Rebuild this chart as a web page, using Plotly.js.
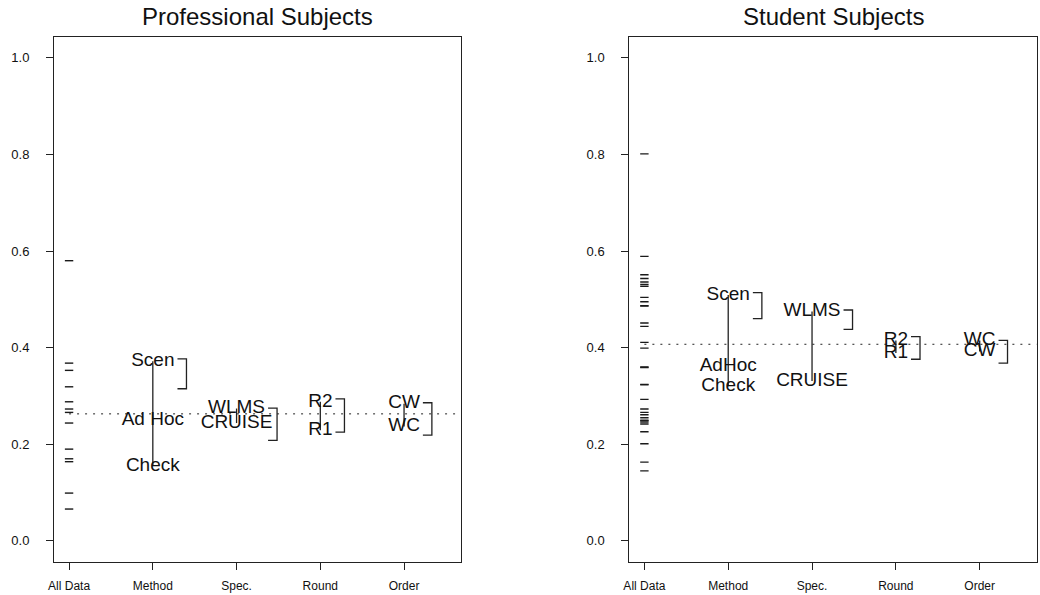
<!DOCTYPE html>
<html>
<head>
<meta charset="utf-8">
<script src="https://cdn.plot.ly/plotly-3.0.1.min.js"></script>
<style>html,body{margin:0;padding:0;background:#fff;}#chart{width:1040px;height:595px;}</style>
</head>
<body>
<div id="chart"></div>
<script>
// ---------- data ----------
const categories = ['All Data', 'Method', 'Spec.', 'Round', 'Order'];
const panelTitles = ['Professional Subjects', 'Student Subjects'];

const proAllData = [0.580, 0.368, 0.353, 0.319, 0.288, 0.273, 0.266, 0.244, 0.190, 0.170, 0.164, 0.099, 0.066];
const proMean = 0.263;
const proMethodLevels = ['Scen', 'Ad Hoc', 'Check'];
const proMethodMeans = [0.372, 0.249, 0.155];
const proSpecLevels = ['WLMS', 'CRUISE'];
const proSpecMeans = [0.274, 0.244];
const proRoundLevels = ['R2', 'R1'];
const proRoundMeans = [0.288, 0.229];
const proOrderLevels = ['CW', 'WC'];
const proOrderMeans = [0.284, 0.237];
const proBracketTop = [0.377, 0.275, 0.294, 0.286];
const proBracketBottom = [0.315, 0.208, 0.225, 0.219];

const stuAllData = [0.801, 0.589, 0.551, 0.543, 0.536, 0.531, 0.527, 0.504, 0.495, 0.487, 0.486, 0.451, 0.444,
  0.411, 0.399, 0.360, 0.359, 0.324, 0.323, 0.293, 0.273, 0.266, 0.261, 0.255, 0.250, 0.249, 0.246, 0.242,
  0.226, 0.201, 0.163, 0.145];
const stuMean = 0.407;
const stuMethodLevels = ['Scen', 'AdHoc', 'Check'];
const stuMethodMeans = [0.509, 0.361, 0.320];
const stuSpecLevels = ['WLMS', 'CRUISE'];
const stuSpecMeans = [0.475, 0.331];
const stuRoundLevels = ['R2', 'R1'];
const stuRoundMeans = [0.415, 0.389];
const stuOrderLevels = ['WC', 'CW'];
const stuOrderMeans = [0.415, 0.392];
const stuBracketTop = [0.514, 0.478, 0.423, 0.415];
const stuBracketBottom = [0.460, 0.438, 0.376, 0.368];

// ---------- styling / layout constants ----------
const W = 1040, H = 595;
const FONT = '"Liberation Sans", Arial, Helvetica, sans-serif';
const LABEL_SIZE = 19;
const XRANGE = [0.82, 5.68];
const YRANGE = [-0.043, 1.043];
const xDomains = [[54 / W, 461 / W], [629.3 / W, 1036.7 / W]];
const yDomain = [1 - 561.7 / H, 1 - 37 / H];
const LINE_COL = '#222';
const TXT_COL = '#111';

const canvas = document.createElement('canvas');
const ctx = canvas.getContext('2d');
ctx.font = LABEL_SIZE + 'px "Liberation Sans", Arial, sans-serif';
function textW(s) { return ctx.measureText(s).width; }

const panels = [
  {
    all: proAllData, mean: proMean,
    factors: [[proMethodLevels, proMethodMeans], [proSpecLevels, proSpecMeans],
              [proRoundLevels, proRoundMeans], [proOrderLevels, proOrderMeans]],
    bTop: proBracketTop, bBot: proBracketBottom
  },
  {
    all: stuAllData, mean: stuMean,
    factors: [[stuMethodLevels, stuMethodMeans], [stuSpecLevels, stuSpecMeans],
              [stuRoundLevels, stuRoundMeans], [stuOrderLevels, stuOrderMeans]],
    bTop: stuBracketTop, bBot: stuBracketBottom
  }
];

const traces = [];
const layout = {
  width: W, height: H,
  margin: {l: 0, r: 0, t: 0, b: 0},
  paper_bgcolor: '#fff', plot_bgcolor: '#fff',
  showlegend: false,
  font: {family: FONT, color: TXT_COL},
  annotations: []
};

panels.forEach((p, i) => {
  const xa = i === 0 ? 'x' : 'x2';
  const ya = i === 0 ? 'y' : 'y2';
  const xKey = i === 0 ? 'xaxis' : 'xaxis2';
  const yKey = i === 0 ? 'yaxis' : 'yaxis2';
  const pxPerUnit = (xDomains[i][1] - xDomains[i][0]) * W / (XRANGE[1] - XRANGE[0]);

  // all data dashes
  traces.push({
    x: p.all.map(() => 1), y: p.all, xaxis: xa, yaxis: ya,
    type: 'scatter', mode: 'markers', hoverinfo: 'skip',
    marker: {symbol: 'line-ew', size: 6, line: {width: 1.4, color: '#1a1a1a'}}
  });
  // grand mean dotted line
  traces.push({
    x: [1, XRANGE[1]], y: [p.mean, p.mean], xaxis: xa, yaxis: ya,
    type: 'scatter', mode: 'lines', hoverinfo: 'skip',
    line: {color: '#222', width: 1, dash: '2px,6px'}
  });

  p.factors.forEach((f, k) => {
    const levels = f[0], means = f[1];
    const xc = k + 2;
    const mn = Math.min(...means), mx = Math.max(...means);
    // vertical range line
    traces.push({
      x: [xc, xc], y: [mn, mx], xaxis: xa, yaxis: ya,
      type: 'scatter', mode: 'lines', hoverinfo: 'skip',
      line: {color: LINE_COL, width: 1.3}
    });
    // level labels at means
    traces.push({
      x: means.map(() => xc), y: means, text: levels, xaxis: xa, yaxis: ya,
      type: 'scatter', mode: 'text', hoverinfo: 'skip', textposition: 'middle center',
      textfont: {family: FONT, size: LABEL_SIZE, color: TXT_COL}
    });
    // bracket right of the top label
    const topIdx = means.indexOf(mx);
    const xl = xc + (textW(levels[topIdx]) / 2 + 3) / pxPerUnit;
    const xr = xl + 9 / pxPerUnit;
    traces.push({
      x: [xl, xr, xr, xl], y: [p.bTop[k], p.bTop[k], p.bBot[k], p.bBot[k]], xaxis: xa, yaxis: ya,
      type: 'scatter', mode: 'lines', hoverinfo: 'skip',
      line: {color: LINE_COL, width: 1.3}
    });
  });

  layout[xKey] = {
    domain: xDomains[i], range: XRANGE, anchor: ya,
    tickmode: 'array', tickvals: [1, 2, 3, 4, 5], ticktext: categories,
    ticks: 'outside', ticklen: 7, tickwidth: 1, tickcolor: '#222',
    showline: true, mirror: true, linecolor: '#222', linewidth: 1,
    showgrid: false, zeroline: false, fixedrange: true,
    tickfont: {family: FONT, size: 12, color: TXT_COL},
    ticklabelstandoff: 6
  };
  layout[yKey] = {
    domain: yDomain, range: YRANGE, anchor: xa,
    tickmode: 'array', tickvals: [0, 0.2, 0.4, 0.6, 0.8, 1.0], tickformat: '.1f',
    ticks: 'outside', ticklen: 7, tickwidth: 1, tickcolor: '#222',
    showline: true, mirror: true, linecolor: '#222', linewidth: 1,
    showgrid: false, zeroline: false, fixedrange: true,
    tickfont: {family: FONT, size: 13, color: TXT_COL},
    ticklabelstandoff: 14
  };
  layout.annotations.push({
    xref: 'paper', yref: 'paper',
    x: (xDomains[i][0] + xDomains[i][1]) / 2, y: 1 - 16 / H,
    xanchor: 'center', yanchor: 'middle', showarrow: false,
    text: panelTitles[i], font: {family: FONT, size: 24, color: TXT_COL}
  });
});

Plotly.newPlot('chart', traces, layout, {displayModeBar: false, staticPlot: true});
</script>
</body>
</html>
